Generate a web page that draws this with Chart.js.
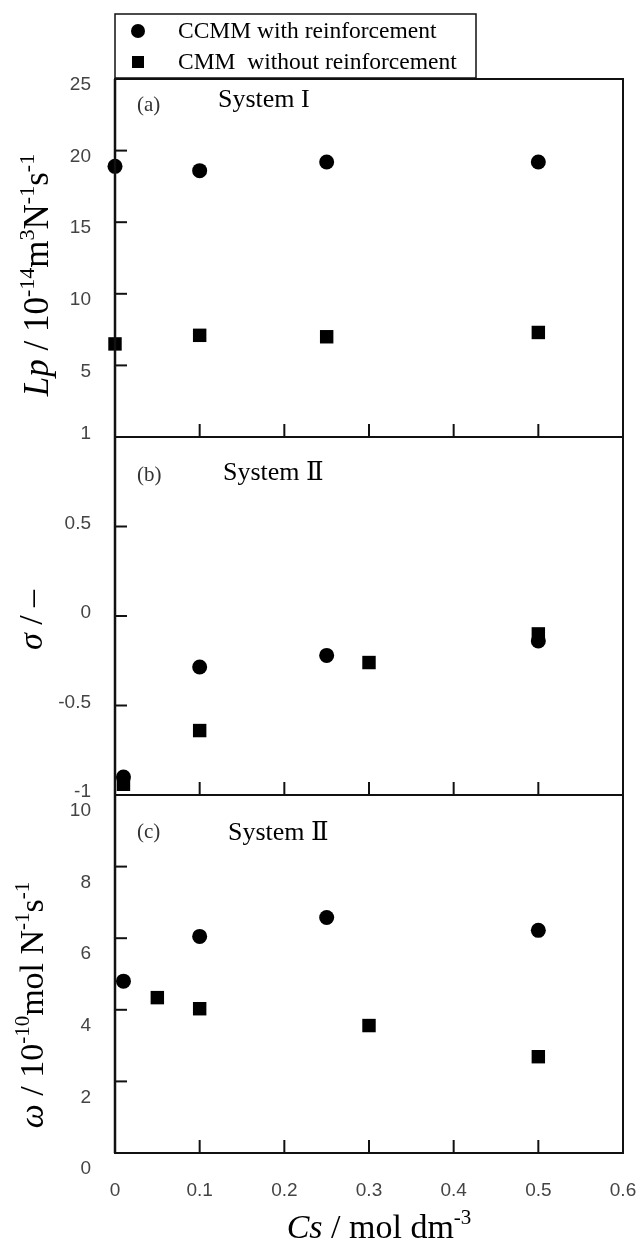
<!DOCTYPE html>
<html>
<head>
<meta charset="utf-8">
<script src="https://cdn.jsdelivr.net/npm/chart.js@4"></script>
<style>
  html, body { margin: 0; padding: 0; background: #fff; }
  #wrap { width: 640px; height: 1244px; }
</style>
</head>
<body>
<div id="wrap"><canvas id="chart" width="640" height="1244"></canvas></div>
<script>
// series names
const seriesNames = ['CCMM with reinforcement', 'CMM  without reinforcement'];

// x axis: Cs / mol dm-3
const csTicks = [0, 0.1, 0.2, 0.3, 0.4, 0.5, 0.6];
const csTickLabels = ['0', '0.1', '0.2', '0.3', '0.4', '0.5', '0.6'];

// (a) Lp, System I
const lpTicks = [0, 5, 10, 15, 20, 25];
const lpTickLabels = ['', '5', '10', '15', '20', '25'];
const lpCcmmX = [0, 0.1, 0.25, 0.5];
const lpCcmmY = [18.9, 18.6, 19.2, 19.2];
const lpCmmX = [0, 0.1, 0.25, 0.5];
const lpCmmY = [6.5, 7.1, 7.0, 7.3];

// (b) sigma, System II
const sigmaTicks = [-1, -0.5, 0, 0.5, 1];
const sigmaTickLabels = ['-1', '-0.5', '0', '0.5', '1'];
const sigmaCcmmX = [0.01, 0.1, 0.25, 0.5];
const sigmaCcmmY = [-0.90, -0.285, -0.22, -0.14];
const sigmaCmmX = [0.01, 0.1, 0.3, 0.5];
const sigmaCmmY = [-0.94, -0.64, -0.26, -0.10];

// (c) omega, System II
const omegaTicks = [0, 2, 4, 6, 8, 10];
const omegaTickLabels = ['0', '2', '4', '6', '8', '10'];
const omegaCcmmX = [0.01, 0.1, 0.25, 0.5];
const omegaCcmmY = [4.8, 6.05, 6.58, 6.22];
const omegaCmmX = [0.05, 0.1, 0.3, 0.5];
const omegaCmmY = [4.34, 4.03, 3.56, 2.69];

const SERIF = '"Liberation Serif", "DejaVu Serif", serif';
const SANS = '"Liberation Sans", Arial, sans-serif';

function pts(xs, ys) {
    return xs.map((x, i) => ({ x: x, y: ys[i] }));
}

function circleSet(label, xs, ys, axis) {
    return {
        label: label, data: pts(xs, ys), yAxisID: axis,
        pointStyle: 'circle', pointRadius: 7.5, pointBorderWidth: 0,
        backgroundColor: '#000', borderColor: '#000', showLine: false, clip: false
    };
}
function squareSet(label, xs, ys, axis) {
    return {
        label: label, data: pts(xs, ys), yAxisID: axis,
        pointStyle: 'rect', pointRadius: 9.5, pointBorderWidth: 0,
        backgroundColor: '#000', borderColor: '#000', showLine: false, clip: false
    };
}

// no extra padding from the tick labels, the frame is placed by layout.padding
function noPad(s) {
    s.paddingLeft = 0;
    s.paddingRight = 0;
    s.paddingTop = 0;
    s.paddingBottom = 0;
}

function yScale(ticks, labels, weight, offset) {
    return {
        type: 'linear',
        position: 'left',
        stack: 'panels',
        stackWeight: 1,
        weight: weight,
        min: ticks[0],
        max: ticks[ticks.length - 1],
        afterBuildTicks: s => { s.ticks = ticks.map(v => ({ value: v })); },
        afterFit: s => { s.width = 115; noPad(s); },
        grid: { display: false, drawTicks: false },
        border: { display: false },
        ticks: {
            autoSkip: false,
            padding: 24,
            labelOffset: offset,
            color: '#444',
            font: { family: SANS, size: 19 },
            callback: (v, i) => labels[i]
        }
    };
}

// rich text with italics and superscripts
function partFont(p, size) {
    return (p.i ? 'italic ' : '') + (p.sup ? Math.round(size * 0.62) : size) + 'px ' + SERIF;
}
function richWidth(ctx, parts, size) {
    let w = 0;
    parts.forEach(p => {
        ctx.font = partFont(p, size);
        p.w = ctx.measureText(p.t).width;
        w += p.w;
    });
    return w;
}
function drawRich(ctx, parts, cx, baseline, size) {
    const w = richWidth(ctx, parts, size);
    let x = cx - w / 2;
    ctx.textAlign = 'left';
    ctx.textBaseline = 'alphabetic';
    parts.forEach(p => {
        ctx.font = partFont(p, size);
        ctx.fillText(p.t, x, p.sup ? baseline - size * 0.4 : baseline);
        x += p.w;
    });
}

const lpTitle = [{ t: 'Lp', i: true }, { t: ' / 10' }, { t: '-14', sup: true }, { t: 'm' }, { t: '3', sup: true },
    { t: 'N' }, { t: '-1', sup: true }, { t: 's' }, { t: '-1', sup: true }];
const sigmaTitle = [{ t: 'σ', i: true }, { t: ' / –' }];
const omegaTitle = [{ t: 'ω', i: true }, { t: ' / 10' }, { t: '-10', sup: true }, { t: 'mol N' }, { t: '-1', sup: true },
    { t: 's' }, { t: '-1', sup: true }];
const csTitle = [{ t: 'Cs', i: true }, { t: ' / mol dm' }, { t: '-3', sup: true }];

const framePlugin = {
    id: 'frame',
    afterDatasetsDraw(chart) {
        const ctx = chart.ctx;
        const a = chart.chartArea;
        const x = chart.scales.x;
        const panels = [chart.scales.yA, chart.scales.yB, chart.scales.yC];
        ctx.save();
        ctx.strokeStyle = '#111';
        ctx.lineWidth = 2;
        ctx.strokeRect(a.left, a.top, a.right - a.left, a.bottom - a.top);
        ctx.lineWidth = 2.5;
        ctx.beginPath();
        ctx.moveTo(a.left, a.top);
        ctx.lineTo(a.left, a.bottom);
        ctx.stroke();
        ctx.lineWidth = 2;
        panels.forEach(s => {
            ctx.beginPath();
            ctx.moveTo(a.left, s.bottom);
            ctx.lineTo(a.right, s.bottom);
            ctx.stroke();
            // left ticks, pointing in
            s.ticks.forEach(t => {
                const py = s.getPixelForValue(t.value);
                ctx.beginPath();
                ctx.moveTo(a.left, py);
                ctx.lineTo(a.left + 12, py);
                ctx.stroke();
            });
            // bottom ticks, pointing up
            csTicks.slice(1, -1).forEach(v => {
                const px = x.getPixelForValue(v);
                ctx.beginPath();
                ctx.moveTo(px, s.bottom);
                ctx.lineTo(px, s.bottom - 13);
                ctx.stroke();
            });
        });

        // panel captions
        ctx.textBaseline = 'middle';
        ctx.textAlign = 'left';
        const caps = [
            ['(a)', 'System I', panels[0].top, 26, 21, 218],
            ['(b)', 'System Ⅱ', panels[1].top, 38, 36, 223],
            ['(c)', 'System Ⅱ', panels[2].top, 37, 38, 228]
        ];
        caps.forEach(c => {
            ctx.font = '21px ' + SERIF;
            ctx.fillStyle = '#333';
            ctx.fillText(c[0], 137, c[2] + c[3]);
            ctx.font = '26px ' + SERIF;
            ctx.fillStyle = '#000';
            ctx.fillText(c[1], c[5], c[2] + c[4]);
        });

        // axis titles
        ctx.fillStyle = '#000';
        const yTitles = [[lpTitle, 48, 275, 35], [sigmaTitle, 42, 620, 34], [omegaTitle, 43, 1005, 34]];
        yTitles.forEach(t => {
            ctx.save();
            ctx.translate(t[1], t[2]);
            ctx.rotate(-Math.PI / 2);
            drawRich(ctx, t[0], 0, 0, t[3]);
            ctx.restore();
        });
        drawRich(ctx, csTitle, 379, 1238, 34);

        // legend box
        ctx.lineWidth = 1.5;
        ctx.strokeStyle = '#111';
        ctx.strokeRect(115, 14, 361, 64);
        ctx.fillStyle = '#000';
        ctx.beginPath();
        ctx.arc(138, 31, 7, 0, Math.PI * 2);
        ctx.fill();
        ctx.fillRect(132, 56, 12, 12);
        ctx.font = '23.5px ' + SERIF;
        ctx.textBaseline = 'middle';
        ctx.textAlign = 'left';
        ctx.fillText(seriesNames[0], 178, 32);
        ctx.fillText(seriesNames[1], 178, 63);
        ctx.restore();
    }
};

new Chart(document.getElementById('chart'), {
    type: 'scatter',
    data: {
        datasets: [
            circleSet(seriesNames[0], lpCcmmX, lpCcmmY, 'yA'),
            squareSet(seriesNames[1], lpCmmX, lpCmmY, 'yA'),
            circleSet(seriesNames[0], sigmaCcmmX, sigmaCcmmY, 'yB'),
            squareSet(seriesNames[1], sigmaCmmX, sigmaCmmY, 'yB'),
            circleSet(seriesNames[0], omegaCcmmX, omegaCcmmY, 'yC'),
            squareSet(seriesNames[1], omegaCmmX, omegaCmmY, 'yC')
        ]
    },
    options: {
        responsive: false,
        animation: false,
        devicePixelRatio: 1,
        layout: { padding: { top: 79, right: 17, left: 0, bottom: 0 } },
        plugins: { legend: { display: false }, tooltip: { enabled: false } },
        scales: {
            x: {
                type: 'linear',
                position: 'bottom',
                min: 0,
                max: 0.6,
                afterBuildTicks: s => { s.ticks = csTicks.map(v => ({ value: v })); },
                afterFit: s => { s.height = 91; noPad(s); },
                grid: { display: false, drawTicks: false },
                border: { display: false },
                ticks: {
                    autoSkip: false,
                    maxRotation: 0,
                    padding: 26,
                    color: '#444',
                    font: { family: SANS, size: 19 },
                    callback: (v, i) => csTickLabels[i]
                }
            },
            yC: yScale(omegaTicks, omegaTickLabels, 1, 16),
            yB: yScale(sigmaTicks, sigmaTickLabels, 2, -3),
            yA: yScale(lpTicks, lpTickLabels, 3, 6)
        }
    },
    plugins: [framePlugin]
});
</script>
</body>
</html>
